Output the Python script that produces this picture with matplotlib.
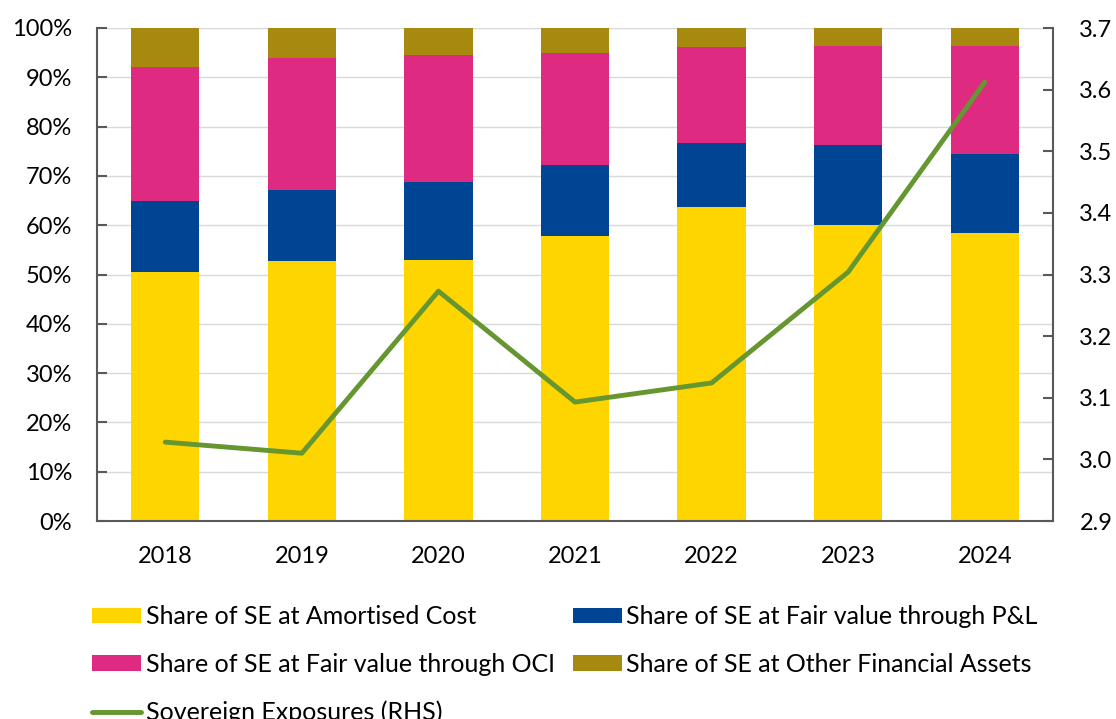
import numpy as np
import matplotlib
matplotlib.use("Agg")
import matplotlib.pyplot as plt
from matplotlib.ticker import PercentFormatter, FormatStrFormatter

# data
years = ["2018", "2019", "2020", "2021", "2022", "2023", "2024"]
amortised = [50.5, 52.7, 52.9, 57.8, 63.7, 60.0, 58.4]
fv_pl = [14.4, 14.4, 15.9, 14.4, 13.0, 16.3, 16.0]
fv_oci = [27.2, 26.8, 25.7, 22.7, 19.4, 20.0, 21.9]
other = [7.9, 6.1, 5.5, 5.1, 3.9, 3.7, 3.7]
sovereign = [3.028, 3.010, 3.273, 3.093, 3.124, 3.304, 3.612]

labels = ["Share of SE at Amortised Cost",
          "Share of SE at Fair value through P&L",
          "Share of SE at Fair value through OCI",
          "Share of SE at Other Financial Assets"]
colors = ["#FFD500", "#004494", "#DE2A80", "#A8890F"]
line_color = "#65962F"

plt.rcParams['font.family'] = ['Lato', 'DejaVu Sans']
fs = 17
lfs = 18

fig = plt.figure(figsize=(11.16, 7.19), dpi=100)
ax = fig.add_axes([97/1116, 1 - 521/719, (1053-97)/1116, (521-28)/719])

x = np.arange(len(years))
bottom = np.zeros(len(years))
handles = []
for vals, lab, col in zip([amortised, fv_pl, fv_oci, other], labels, colors):
    b = ax.bar(x, vals, 0.5, bottom=bottom, color=col, label=lab, zorder=2)
    handles.append(b)
    bottom += np.array(vals)

ax.set_xlim(-0.5, 6.5)
ax.set_ylim(0, 100)
ax.set_yticks(np.arange(0, 101, 10))
ax.yaxis.set_major_formatter(PercentFormatter(decimals=0))
ax.set_xticks(x)
ax.set_xticklabels(years)
ax.grid(axis='y', color='#d9d9d9', linewidth=1, zorder=0)
ax.set_axisbelow(True)
for s in ['top', 'right']:
    ax.spines[s].set_visible(False)
for s in ['left', 'bottom']:
    ax.spines[s].set_color('#595959')
    ax.spines[s].set_linewidth(1.5)
ax.tick_params(axis='y', direction='in', length=7, width=1.5, color='#595959',
               labelsize=fs, pad=18)
ax.tick_params(axis='x', length=0, labelsize=fs, pad=18)

ax2 = ax.twinx()
ln, = ax2.plot(x, sovereign, color=line_color, linewidth=3.5,
               solid_capstyle='round', label="Sovereign Exposures (RHS)", zorder=3)
ax2.set_ylim(2.9, 3.7)
ax2.set_yticks(np.arange(2.9, 3.71, 0.1))
ax2.yaxis.set_major_formatter(FormatStrFormatter('%.1f'))
for s in ['top', 'left', 'bottom']:
    ax2.spines[s].set_visible(False)
ax2.spines['right'].set_color('#595959')
ax2.spines['right'].set_linewidth(1.5)
ax2.tick_params(axis='y', direction='in', length=7, width=1.5, color='#595959',
                labelsize=fs, pad=19)

order = [handles[0], handles[2], ln, handles[1], handles[3]]
fig.legend(order, [h.get_label() for h in order], ncol=2, frameon=False,
           loc='upper left', bbox_to_anchor=(92/1116, 1 - 605/719),
           fontsize=lfs, handlelength=1.95, handleheight=0.56,
           handletextpad=0.2, labelspacing=0.99, columnspacing=0.72,
           borderaxespad=0, borderpad=0)

fig.savefig("out.png", dpi=100)
